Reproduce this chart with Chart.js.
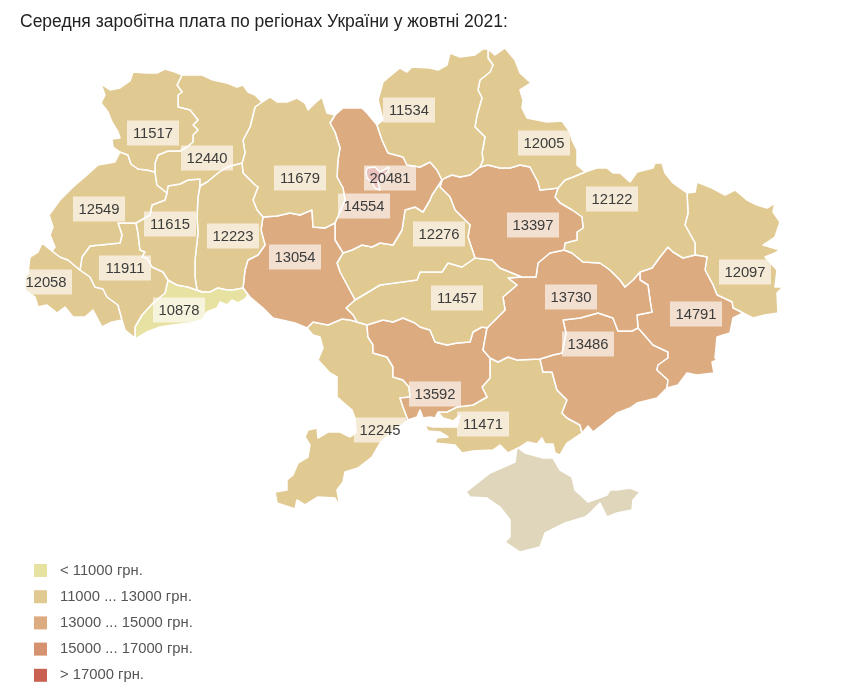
<!DOCTYPE html>
<html>
<head>
  <meta name="viewport" content="width=device-width, initial-scale=1.0">
  <title>Середня заробітна плата</title>
  <script src="https://cdn.jsdelivr.net/npm/chart.js"></script>
  <style>
    body { margin: 0; padding: 0; background: #fff; }
    canvas { display: block; }
  </style>
</head>
<body>
  <canvas id="mapChart" width="854" height="695"></canvas>

  <script>
    // Values
    const titleText = 'Середня заробітна плата по регіонах України у жовтні 2021:';
    const regionNames = ['Волинська','Рівненська','Львівська','Тернопільська','Івано-Франківська','Закарпатська','Чернівецька','Хмельницька','Житомирська','Вінницька','Чернігівська','Сумська','Київ','Київська','Черкаська','Полтавська','Харківська','Кіровоградська','Дніпропетровська','Донецька','Луганська','Запорізька','Миколаївська','Одеська','Херсонська'];
    const regionValues = [11517,12440,12549,11615,11911,12058,10878,12223,11679,13054,11534,12005,20481,14554,12276,13397,12122,11457,13730,14791,12097,13486,13592,12245,11471];
    const labelX = [153,207,99,170,125,46,179,233,300,295,409,544,390,364,439,533,612,457,571,696,745,588,435,380,483];
    const labelY = [133,158,209,224,268,282,310,236,178,257,110,143,178,206,234,225,199,298,297,314,272,344,394,430,424];

    const legendLabels = ['< 11000 грн.','11000 ... 13000 грн.','13000 ... 15000 грн.','15000 ... 17000 грн.','> 17000 грн.'];
    const legendColors = ['#e8e2a2','#e1c992','#dcab80','#d6926e','#c96052'];
    const classLimits = [11000,13000,15000,17000];
    const noDataColor = '#dfd6bc';

    // Map outlines, in map units, shared between neighbours
    const volynN = [[182,75],[175,72],[165,69],[157,73],[147,73],[133,72],[130,81],[120,88],[110,90],[101,84],[105,95],[101,103],[108,112],[112,122],[118,132],[120,138],[112,139],[113,147],[120,152]];
    const volynLviv = [[120,152],[128,155],[131,164],[138,169],[147,170],[155,172]];
    const rivneVolyn = [[155,172],[155,163],[158,155],[168,151],[180,151],[187,147],[193,142],[193,135],[198,130],[193,125],[198,120],[190,110],[178,107],[178,95],[182,92],[177,85],[182,75]];
    const rivneLviv = [[155,172],[157,185],[167,193]];
    const rivneTer = [[167,193],[168,186],[180,184],[188,180],[200,179],[200,186]];
    const rivneKhm = [[200,186],[207,182],[218,173],[227,167],[242,163]];
    const rivneZhy = [[242,163],[245,153],[243,140],[250,127],[255,107],[262,102]];
    const rivneN = [[262,102],[255,95],[248,92],[243,85],[237,87],[227,83],[213,80],[202,75],[190,75],[182,75]];
    const lvivW = [[120,152],[115,162],[98,165],[87,175],[73,187],[60,200],[49,215],[53,227],[50,235],[55,247],[52,251]];
    const lvivZak = [[52,251],[60,257],[68,260],[80,270]];
    const lvivIf = [[80,270],[82,257],[90,246],[120,243],[122,235],[118,223],[125,223],[136,223]];
    const lvivTer = [[136,223],[150,215],[152,205],[165,200],[167,193]];
    const zakW = [[52,251],[42,243],[38,252],[30,257],[28,273],[25,277],[25,290],[35,297],[38,307],[47,305],[57,313],[65,307],[73,317],[85,317],[93,310],[102,327],[112,322],[122,320]];
    const zakIf = [[80,270],[90,277],[95,287],[103,289],[107,297],[118,305],[122,320]];
    const ifS = [[122,320],[125,330],[135,338]];
    const ifChern = [[135,338],[135,327],[142,315],[153,303],[165,293],[168,280]];
    const ifTer = [[168,280],[163,272],[152,267],[147,258],[142,257],[145,252],[140,250],[138,233],[136,223]];
    const terKhm = [[200,186],[198,197],[197,217],[198,233],[195,260],[195,277],[197,290],[202,292]];
    const terChern = [[202,292],[188,287],[177,285],[168,280]];
    const khmZhy = [[242,163],[243,173],[255,185],[258,187],[253,200],[257,210],[263,217]];
    const khmVin = [[263,217],[261,230],[265,245],[258,255],[248,260],[245,270],[243,288]];
    const khmChern = [[243,288],[233,290],[227,290],[218,288],[210,292],[202,292]];
    const chernS = [[243,288],[248,295],[245,299],[238,303],[232,300],[227,305],[220,302],[217,308],[207,312],[202,320],[190,323],[173,325],[160,327],[147,332],[137,338],[135,338]];
    const zhyN = [[262,102],[270,97],[277,102],[287,102],[297,98],[305,103],[308,110],[315,103],[322,97],[327,113],[335,115]];
    const zhyKyiv = [[335,115],[330,123],[335,132],[340,148],[338,160],[337,177],[343,188],[345,200],[335,223]];
    const zhyVin = [[335,223],[325,228],[313,227],[312,210],[300,215],[290,213],[277,216],[263,217]];
    const vinKyiv = [[335,223],[335,240],[343,253]];
    const vinCher = [[343,253],[337,263],[340,272],[347,285],[355,300]];
    const vinKir = [[355,300],[346,308],[353,315],[357,322]];
    const vinOd = [[357,322],[350,320],[342,319],[328,325],[313,322],[307,328]];
    const vinS = [[307,328],[295,323],[273,318],[263,308],[250,297],[243,288]];
    const kyivN = [[335,115],[343,108],[352,108],[362,108],[367,113],[377,125]];
    const kyivChernihiv = [[377,125],[382,140],[388,153],[403,157],[407,165],[420,167],[430,162],[437,170],[442,180]];
    const kyivCher = [[343,253],[352,250],[362,245],[372,247],[380,243],[393,245],[402,230],[405,210],[415,207],[423,212],[430,200],[432,195],[442,180]];
    const chernihivN = [[377,125],[383,120],[378,100],[383,82],[395,72],[400,68],[407,72],[412,67],[430,68],[438,70],[447,65],[450,53],[460,57],[475,55],[483,49],[488,49]];
    const chernihivSumy = [[488,49],[488,58],[493,65],[490,72],[480,80],[478,90],[482,98],[477,115],[475,127],[485,137],[482,153],[483,160],[480,167]];
    const chernihivPol = [[480,167],[470,175],[460,177],[452,175],[445,178],[442,180]];
    const sumyN = [[488,49],[495,55],[505,48],[515,60],[520,73],[531,83],[520,90],[523,100],[522,108],[527,118],[547,122],[562,121],[570,132],[572,140],[577,150],[577,165],[585,172]];
    const sumyKha = [[585,172],[573,177],[565,180],[558,188]];
    const sumyPol = [[558,188],[550,189],[540,190],[538,182],[530,167],[520,165],[510,168],[500,168],[488,165],[480,167]];
    const polKha = [[558,188],[555,197],[560,203],[572,210],[582,217],[583,228],[577,232],[577,240],[565,243],[564,250]];
    const polDni = [[564,250],[550,253],[538,263],[536,277],[522,277]];
    const polKir = [[522,277],[500,268],[492,260],[475,258]];
    const polCher = [[475,258],[468,237],[470,225],[455,210],[450,197],[440,187],[442,180]];
    const cherKir = [[475,258],[462,267],[448,263],[442,272],[420,272],[417,280],[380,285],[355,300]];
    const kirDni = [[522,277],[508,278],[517,285],[503,297],[505,310],[487,328]];
    const kirMyk = [[487,328],[482,327],[473,332],[470,342],[457,343],[447,345],[435,342],[430,330],[420,327],[415,323],[403,318],[393,322],[383,320],[367,325]];
    const kirOd = [[367,325],[357,322]];
    const mykDni = [[487,328],[483,350],[490,358]];
    const mykKh = [[490,358],[490,378],[482,387],[487,397],[473,405],[457,407],[447,412]];
    const mykS = [[447,412],[438,412],[435,418],[430,417],[423,418],[420,410],[417,417],[408,420]];
    const mykOd = [[408,420],[403,407],[400,398],[410,397],[409,387],[403,380],[393,377],[393,367],[387,357],[373,353],[373,345],[368,337],[367,325]];
    const odS = [[408,420],[385,438],[380,443],[372,457],[358,468],[345,472],[343,482],[337,490],[340,507],[335,498],[318,497],[305,505],[297,500],[295,509],[277,503],[275,492],[287,490],[287,480],[293,475],[298,463],[308,457],[310,445],[305,437],[308,430],[317,428],[318,438],[328,432],[340,432],[350,437],[356,433],[355,418],[352,410],[337,397],[337,377],[330,373],[318,360],[323,348],[320,337],[313,335],[307,328]];
    const khDni = [[490,358],[498,362],[508,357],[517,360],[540,359]];
    const khZap = [[540,359],[543,372],[552,372],[557,390],[567,400],[562,413],[567,418],[580,425],[582,433]];
    const khS = [[582,433],[567,443],[560,455],[555,453],[553,444],[545,444],[542,438],[537,444],[528,442],[520,447],[508,453],[500,445],[493,450],[473,451],[462,453],[455,445],[435,443],[437,438],[448,437],[440,432],[428,431],[425,425],[433,427],[457,427],[460,415],[453,421],[443,418],[438,412],[447,412]];
    const dniKha = [[564,250],[572,253],[583,262],[600,263],[610,270],[620,280],[625,287],[633,280],[640,272]];
    const dniDon = [[640,272],[640,280],[648,285],[650,300],[652,312],[637,315],[638,328]];
    const dniZap = [[540,359],[553,355],[562,353],[566,333],[563,320],[580,318],[598,313],[613,318],[618,331],[632,331],[638,328]];
    const khaN = [[585,172],[597,168],[607,168],[613,173],[620,173],[630,182],[637,172],[653,168],[655,163],[662,163],[665,173],[673,183],[687,193]];
    const luhKha = [[687,193],[688,213],[685,225],[695,243],[695,255]];
    const khaDon = [[640,272],[652,268],[660,257],[668,247],[673,252],[683,258],[695,255]];
    const luhN = [[687,193],[695,192],[697,182],[712,188],[725,195],[735,190],[747,200],[757,205],[767,208],[775,203],[773,212],[780,222],[775,237],[763,245],[780,250],[775,253],[765,257],[777,270],[775,287],[783,287],[777,293],[778,313],[765,315],[753,318],[743,313]];
    const luhDon = [[743,313],[733,308],[732,302],[717,295],[713,285],[705,270],[707,257],[695,255]];
    const donS = [[743,313],[733,318],[730,333],[717,337],[715,358],[717,360],[712,362],[714,373],[697,375],[687,373],[678,385],[667,388]];
    const donZap = [[667,388],[668,380],[657,370],[658,365],[668,358],[668,352],[653,345],[640,330],[638,328]];
    const zapS = [[667,388],[657,398],[637,403],[630,408],[617,413],[607,421],[593,432],[588,426],[582,433]];
    const kyivCity = [[367,168],[375,167],[380,172],[389,167],[388,172],[382,176],[378,182],[380,190],[375,188],[372,182],[367,178],[366,172],[367,168]];
    const crimea = [[517,447],[525,453],[543,458],[553,458],[560,470],[572,477],[575,490],[588,502],[607,495],[610,490],[617,490],[630,488],[640,492],[633,500],[632,510],[617,513],[607,517],[600,503],[590,513],[585,517],[565,523],[545,533],[540,547],[520,552],[505,542],[510,537],[510,520],[500,507],[487,498],[470,497],[466,492],[490,473],[515,462],[517,447]];

    const rev = (a) => a.slice().reverse();

    // same order as regionNames
    const regionRings = [
      [volynN, volynLviv, rivneVolyn],
      [rivneLviv, rivneTer, rivneKhm, rivneZhy, rivneN, rev(rivneVolyn)],
      [lvivW, lvivZak, lvivIf, lvivTer, rev(rivneLviv), rev(volynLviv)],
      [lvivTer, rivneTer, terKhm, terChern, ifTer],
      [rev(lvivIf), zakIf, ifS, ifChern, ifTer],
      [zakW, rev(zakIf), rev(lvivZak)],
      [chernS, ifChern, rev(terChern), rev(khmChern)],
      [rev(terKhm), rivneKhm, khmZhy, khmVin, khmChern],
      [rivneZhy, zhyN, zhyKyiv, zhyVin, rev(khmZhy)],
      [rev(zhyVin), vinKyiv, vinCher, vinKir, vinOd, vinS, rev(khmVin)],
      [chernihivN, chernihivSumy, chernihivPol, rev(kyivChernihiv)],
      [sumyN, sumyKha, sumyPol, rev(chernihivSumy)],
      [kyivCity],
      [rev(zhyKyiv), kyivN, kyivChernihiv, rev(kyivCher), rev(vinKyiv)],
      [kyivCher, rev(polCher), cherKir, rev(vinCher)],
      [rev(chernihivPol), rev(sumyPol), polKha, polDni, polKir, polCher],
      [khaN, luhKha, rev(khaDon), rev(dniKha), rev(polKha), rev(sumyKha)],
      [rev(cherKir), rev(polKir), kirDni, kirMyk, kirOd, rev(vinKir)],
      [rev(polDni), dniKha, dniDon, rev(dniZap), rev(khDni), rev(mykDni), rev(kirDni)],
      [khaDon, rev(luhDon), donS, donZap, rev(dniDon)],
      [luhN, luhDon, rev(luhKha)],
      [dniZap, rev(donZap), zapS, rev(khZap)],
      [rev(kirMyk), mykDni, mykKh, mykS, mykOd],
      [rev(vinOd), rev(kirOd), rev(mykOd), odS],
      [rev(mykKh), khDni, khZap, khS]
    ];

    function classColor(v) {
      let i = 0;
      while (i < classLimits.length && v >= classLimits[i]) i++;
      return legendColors[i];
    }

    function toPoints(parts) {
      const pts = [];
      parts.forEach((p) => p.forEach(([x, y]) => pts.push({ x, y })));
      return pts;
    }

    function regionDataset(name, parts, color, order) {
      return {
        label: name,
        data: toPoints(parts),
        showLine: true,
        fill: 'shape',
        backgroundColor: color,
        borderColor: '#fff',
        borderWidth: 1.5,
        borderJoinStyle: 'round',
        pointRadius: 0,
        tension: 0,
        order: order
      };
    }

    const datasets = regionNames.map((name, i) =>
      regionDataset(name, regionRings[i], classColor(regionValues[i]), name === 'Київ' ? 0 : 1));
    datasets.push(regionDataset('Крим', [crimea], noDataColor, 2));

    // value boxes on top of the regions and the class legend at the bottom
    const mapLabels = {
      id: 'mapLabels',
      afterDatasetsDraw(chart) {
        const { ctx, scales } = chart;
        ctx.save();
        ctx.font = '14.8px "Liberation Sans", Arial, sans-serif';
        ctx.textAlign = 'center';
        ctx.textBaseline = 'middle';
        regionValues.forEach((v, i) => {
          const px = scales.x.getPixelForValue(labelX[i]);
          const py = scales.y.getPixelForValue(labelY[i]);
          ctx.fillStyle = 'rgba(255,255,255,0.62)';
          ctx.fillRect(px - 26, py - 12.5, 52, 25);
          ctx.fillStyle = '#3c3c3c';
          ctx.fillText(String(v), px, py + 0.5);
        });
        ctx.restore();
      }
    };

    const classLegend = {
      id: 'classLegend',
      afterDraw(chart) {
        const ctx = chart.ctx;
        ctx.save();
        ctx.font = '14.8px "Liberation Sans", Arial, sans-serif';
        ctx.textBaseline = 'middle';
        legendLabels.forEach((text, i) => {
          const y = 570.5 + i * 26.2;
          ctx.fillStyle = legendColors[i];
          ctx.fillRect(34, y - 6.5, 13, 13);
          ctx.fillStyle = '#555';
          ctx.fillText(text, 60, y);
        });
        ctx.restore();
      }
    };

    new Chart(document.getElementById('mapChart'), {
      type: 'scatter',
      data: { datasets: datasets },
      plugins: [mapLabels, classLegend],
      options: {
        responsive: false,
        animation: false,
        events: [],
        layout: { padding: { left: 20 } },
        scales: {
          x: { type: 'linear', display: false, min: 20, max: 854 },
          y: { type: 'linear', display: false, min: 40, max: 695, reverse: true }
        },
        plugins: {
          legend: { display: false },
          tooltip: { enabled: false },
          title: {
            display: true,
            text: titleText,
            align: 'start',
            color: '#222',
            font: { family: '"Liberation Sans", Arial, sans-serif', size: 17.5, weight: 'normal', lineHeight: 1.2 },
            padding: { top: 12, bottom: 7 }
          }
        }
      }
    });
  </script>
</body>
</html>
